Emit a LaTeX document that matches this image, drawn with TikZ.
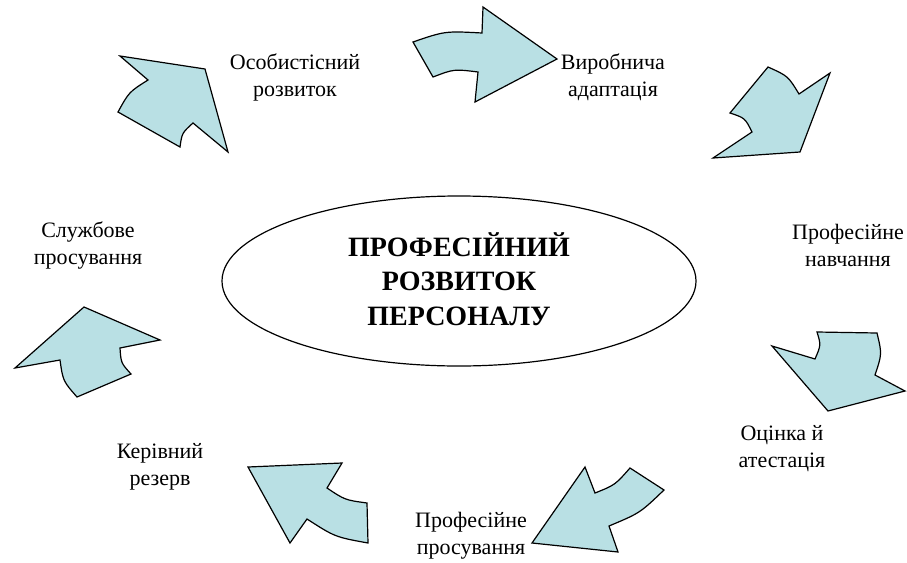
\documentclass[tikz,border=0pt]{standalone}
\usepackage{fontspec}
\setmainfont{Liberation Serif}
\usetikzlibrary{shapes.geometric}
\definecolor{arrowfill}{RGB}{185,224,228}
\begin{document}
\begin{tikzpicture}[x=1pt,y=-1pt,
  blockarrow/.style={draw=black, fill=arrowfill, line width=1.2pt, line join=miter},
  lbl/.style={align=center, anchor=base, inner sep=0pt, font=\fontsize{22}{27}\selectfont},
  core/.style={draw=black, line width=1.2pt, ellipse, minimum width=474pt, minimum height=170pt, inner sep=0pt},
  title/.style={align=center, anchor=base, inner sep=0pt, font=\bfseries\fontsize{28}{34.5}\selectfont}]
\useasboundingbox (0,0) rectangle (907,562);

% centre (anchor=base refers to the last line)
\node[core] (core) at (459,281) {};
\node[title] (title) at (459,325) {ПРОФЕСІЙНИЙ\\РОЗВИТОК\\ПЕРСОНАЛУ};

% block arrows (clockwise cycle)
\draw[blockarrow] (413,42) .. controls (445,31) .. (482,33) -- (483,7) -- (557,59) -- (475,102) -- (478,72) .. controls (454,69) .. (433,77) -- cycle;
\draw[blockarrow] (768,67) .. controls (788,76) .. (799,94) -- (830,73) -- (800,152) -- (713,158) -- (752,132) .. controls (745,118) .. (730,113) -- cycle;
\draw[blockarrow] (877,333) .. controls (882,354) .. (875,375) -- (905,391) -- (828,411) -- (772,346) -- (815,359) .. controls (821,345) .. (817,332) -- cycle;
\draw[blockarrow] (532,543) -- (585,467) -- (595,493) .. controls (615,485) .. (630,468) -- (664,490) .. controls (640,513) .. (609,526) -- (618,552) -- cycle;
\draw[blockarrow] (248,467) -- (342,463) -- (327,488) .. controls (345,500) .. (367,503) -- (368,543) .. controls (335,537) .. (307,519) -- (290,543) -- cycle;
\draw[blockarrow] (84,307) -- (160,340) -- (120,348) .. controls (121,363) .. (131,374) -- (77,397) .. controls (63,381) .. (60,360) -- (15,368) -- cycle;
\draw[blockarrow] (205,69) -- (228,152) -- (193,123) .. controls (182,133) .. (180,147) -- (118,112) .. controls (129,92) .. (148,80) -- (120,56) -- cycle;

% labels (anchor = baseline of the last line)
\node[lbl] (l1) at (295,96) {Особистісний\\розвиток};
\node[lbl] (l2) at (613,96) {Виробнича\\адаптація};
\node[lbl] (l3) at (848,266) {Професійне\\навчання};
\node[lbl] (l4) at (782,467) {Оцінка й\\атестація};
\node[lbl] (l5) at (471,554) {Професійне\\просування};
\node[lbl] (l6) at (160,485) {Керівний\\резерв};
\node[lbl] (l7) at (88,264) {Службове\\просування};
\end{tikzpicture}
\end{document}
